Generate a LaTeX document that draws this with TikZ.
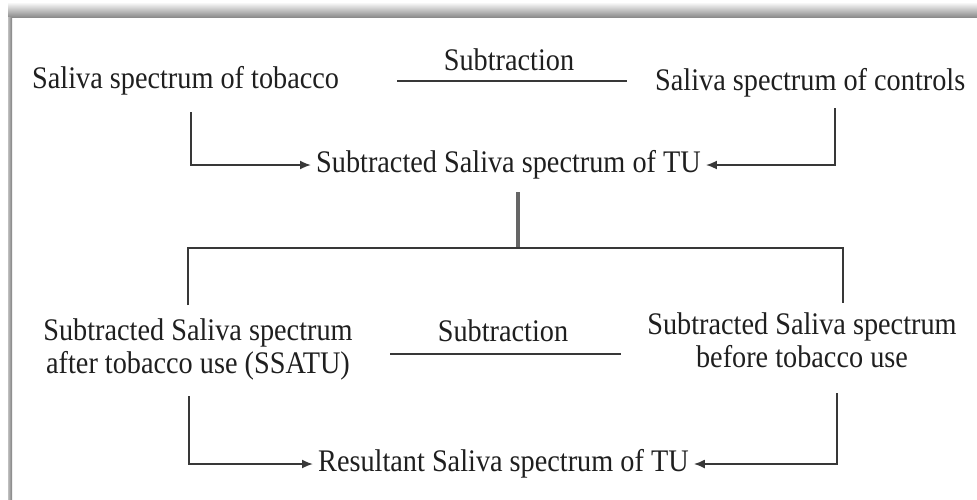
\documentclass[tikz,border=0pt]{standalone}
\usepackage{fontspec}
\setmainfont[FakeStretch=0.9]{Liberation Serif}
\usetikzlibrary{arrows.meta}
\begin{document}
\begin{tikzpicture}[x=1pt,y=-1pt,
  lbl/.style={inner sep=0pt, text=black!88, font=\fontsize{31.4}{33}\selectfont},
  tgt/.style={lbl, inner xsep=5pt},
  conn/.style={draw=black!78, line width=1.8pt},
  arr/.style={conn, -{Latex[length=11pt,width=9pt]}},
  trunk/.style={draw=black!60, line width=3.2pt}]
\useasboundingbox (0,0) rectangle (977,499);
\fill[white] (0,0) rectangle (977,499);
% frame shadow
\shade[top color=white, bottom color=black!45] (8,2) rectangle (977,17);
\shade[left color=black!25, right color=black!50] (8,17) rectangle (12,499);
% row 1
\node[lbl, anchor=base west] (tob) at (32,88) {Saliva spectrum of tobacco};
\node[lbl, anchor=base] (sub1) at (509,70) {Subtraction};
\node[lbl, anchor=base west] (ctrl) at (655,90) {Saliva spectrum of controls};
\coordinate (s1a) at (397,81);
\coordinate (s1b) at (627,81);
\draw[conn, line width=1.4pt] (s1a) -- (s1b);
% row 2
\node[tgt, anchor=west] (sstu) at (311,165) {Subtracted Saliva spectrum of TU};
\coordinate (t1) at (191,112);
\coordinate (t2) at (835,108);
\draw[arr] (t1) |- (sstu.west);
\draw[arr] (t2) |- (sstu.east);
% trunk and branches
\coordinate (k1) at (518,192);
\coordinate (k2) at (518,248);
\coordinate (bl) at (188,305);
\coordinate (br) at (843,303);
\draw[trunk] (k1) -- (k2);
\draw[conn, line width=1.4pt] (bl) |- (k2) -| (br);
% row 3
\node[lbl, align=center, anchor=base] (after) at (198,373) {Subtracted Saliva spectrum\\after tobacco use (SSATU)};
\node[lbl, anchor=base] (sub2) at (503,341) {Subtraction};
\node[lbl, align=center, anchor=base] (before) at (802,367) {Subtracted Saliva spectrum\\before tobacco use};
\coordinate (s2a) at (390,354);
\coordinate (s2b) at (621,354);
\draw[conn, line width=1.4pt] (s2a) -- (s2b);
% row 4
\node[tgt, anchor=west] (res) at (313,464) {Resultant Saliva spectrum of TU};
\coordinate (u1) at (189,396);
\coordinate (u2) at (837,393);
\draw[arr] (u1) |- (res.west);
\draw[arr] (u2) |- (res.east);
\end{tikzpicture}
\end{document}
